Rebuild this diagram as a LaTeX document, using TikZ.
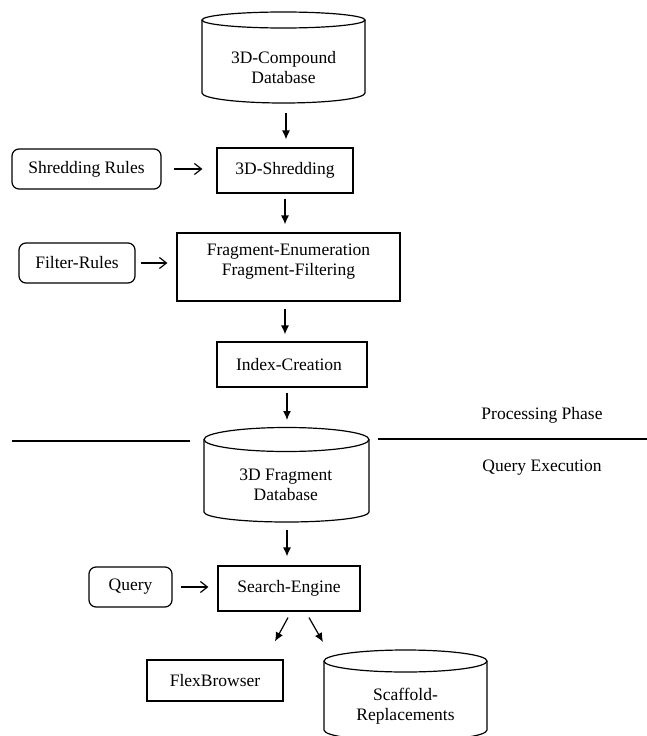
\documentclass[tikz,border=0pt]{standalone}
\usepackage{fontspec}
\setmainfont{Liberation Serif}
\usetikzlibrary{arrows.meta}
\tikzset{
  lbl/.style={font=\fontsize{17.5}{20}\selectfont, align=center, inner sep=0pt},
  boxnode/.style={draw, line width=1.2pt, rectangle, inner sep=0pt},
  rulenode/.style={draw, line width=1.2pt, rectangle, rounded corners=7pt, inner sep=0pt,
    font=\fontsize{17.5}{20}\selectfont, align=center},
  cyl/.style={line width=1.2pt},
  downarr/.style={line width=1.2pt, -{Latex[length=9pt,width=8pt]}},
  sidearr/.style={line width=1.2pt, -{Straight Barb[length=7pt,width=11pt]}},
  sepline/.style={line width=1.3pt}
}
\begin{document}
\begin{tikzpicture}[x=1pt,y=-1pt]
\useasboundingbox (0,0) rectangle (647,736);
\clip (0,0) rectangle (647,736);

% --- cylinder 1: 3D-Compound Database
\draw[cyl] (202,20) -- (202,93) arc[start angle=180, end angle=360, x radius=81.5pt, y radius=10pt] -- (365,20);
\draw[cyl] (283.5,20) ellipse[x radius=81.5pt, y radius=8pt];
\node[lbl] (db1) at (283.5,68) {3D-Compound\\Database};
\coordinate (db1bot) at (286,103);

% --- processing boxes
\node[boxnode, minimum width=136pt, minimum height=45pt, font=\fontsize{17.5}{20}\selectfont] (shred) at (285,170.5) {3D-Shredding};
\node[rulenode, minimum width=149pt, minimum height=40pt] (shredrules) at (86.5,169) {Shredding Rules};

\node[boxnode, minimum width=223pt, minimum height=68pt] (fragbox) at (288.5,267) {};
\node[lbl] (frag) at (288.5,262) {Fragment-Enumeration\\Fragment-Filtering};
\node[rulenode, minimum width=116pt, minimum height=40pt] (filter) at (77,263) {Filter-Rules};

\node[boxnode, minimum width=150pt, minimum height=45pt] (indexbox) at (292,364.5) {};
\node[lbl] (index) at (289,364.5) {Index-Creation};

% --- separator
\draw[sepline] (12,441) -- (190,441);
\draw[sepline] (378,439) -- (647,439);
\node[lbl] (proc) at (542,415) {Processing Phase};
\node[lbl] (qexec) at (542,468) {Query Execution};

% --- cylinder 2: 3D Fragment Database
\draw[cyl] (204,439.5) -- (204,512) arc[start angle=180, end angle=360, x radius=82.5pt, y radius=10pt] -- (369,439.5);
\draw[cyl] (286.5,439.5) ellipse[x radius=82.5pt, y radius=12pt];
\node[lbl] (db2) at (285.8,485) {3D Fragment\\Database};
\coordinate (db2top) at (287,427);
\coordinate (db2bot) at (287,522);

% --- query part
\node[boxnode, minimum width=142pt, minimum height=45pt, font=\fontsize{17.5}{20}\selectfont] (search) at (289,588.5) {Search-Engine};
\node[rulenode, minimum width=83pt, minimum height=40pt] (query) at (130.5,587) {Query};
\node[boxnode, minimum width=136pt, minimum height=41pt, font=\fontsize{17.5}{20}\selectfont] (flex) at (215,680.5) {FlexBrowser};

% --- cylinder 3: Scaffold-Replacements
\draw[cyl] (324,661) -- (324,730) arc[start angle=180, end angle=360, x radius=81.5pt, y radius=11pt] -- (487,661);
\draw[cyl] (405.5,661) ellipse[x radius=81.5pt, y radius=11pt];
\node[lbl] (scaff) at (405.5,706) {Scaffold-\\Replacements};
\coordinate (scafftop) at (405.5,650);

% --- vertical arrows
\draw[downarr, shorten <=10pt, shorten >=8pt] (db1bot) -- (db1bot |- shred.north);
\draw[downarr, shorten <=5pt, shorten >=8pt] (shred.south) -- (shred.south |- fragbox.north);
\draw[downarr, shorten <=7pt, shorten >=7pt] (shred.south |- fragbox.south) -- (shred.south |- indexbox.north);
\draw[downarr, shorten <=5pt, shorten >=7pt] (db2top |- indexbox.south) -- (db2top);
\draw[downarr, shorten <=8pt, shorten >=9pt] (db2bot) -- (db2bot |- search.north);

% --- side arrows
\draw[sidearr, shorten <=12pt, shorten >=14pt] (shredrules.east) -- (shredrules.east -| shred.west);
\draw[sidearr, shorten <=5pt, shorten >=9pt] (filter.east) -- (filter.east -| fragbox.west);
\draw[sidearr, shorten <=8pt, shorten >=9pt] (query.east) -- (query.east -| search.west);

% --- diagonal arrows
\draw[downarr] ([xshift=-1pt,yshift=-6pt]search.south) -- ([xshift=60pt,yshift=18pt]flex.north);
\draw[downarr] ([xshift=20pt,yshift=-6pt]search.south) -- ([xshift=-82.5pt,yshift=8pt]scafftop);
\end{tikzpicture}
\end{document}
